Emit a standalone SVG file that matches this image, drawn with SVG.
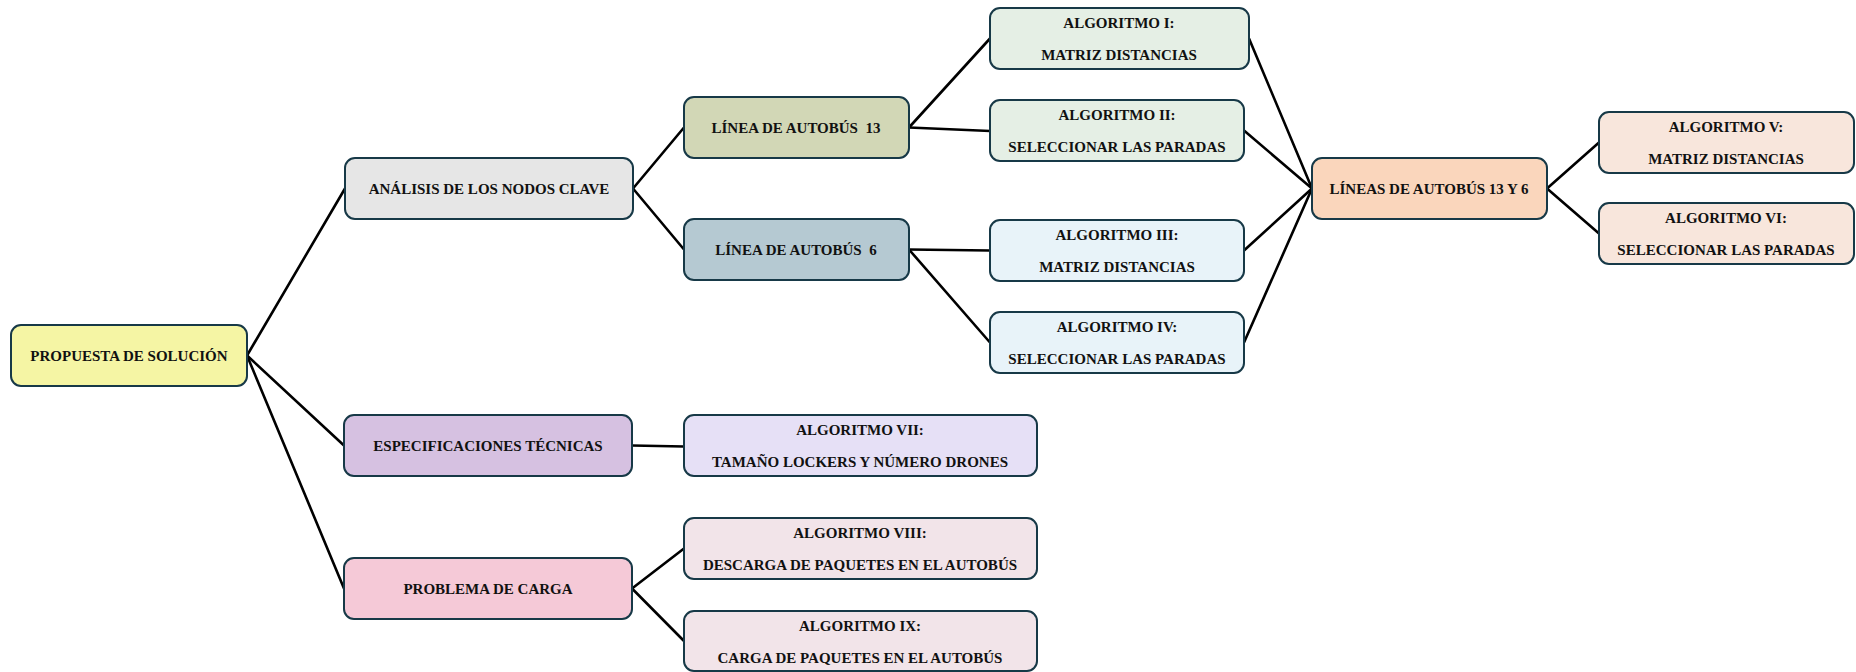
<svg xmlns="http://www.w3.org/2000/svg" width="1856" height="672" viewBox="0 0 1856 672">
  <style>
    .box { stroke: #173947; stroke-width: 2; }
    .lbl { font-family: "Liberation Serif", "Times New Roman", serif; font-weight: bold; font-size: 15px; fill: #111; text-anchor: middle; }
    .edge { stroke: #000; stroke-width: 2.6; fill: none; stroke-linecap: round; }
    .yel { fill: #f5f5a4; }
    .gry { fill: #e6e6e6; }
    .olv { fill: #d2d7b6; }
    .stl { fill: #b5c9d2; }
    .grn { fill: #e5efe5; }
    .blu { fill: #e8f3f9; }
    .pch { fill: #fad6bc; }
    .pch2 { fill: #f8e6dc; }
    .lav { fill: #d6c1e1; }
    .lav2 { fill: #e6e0f6; }
    .pnk { fill: #f5c9d7; }
    .pnk2 { fill: #f2e4e9; }
  </style>

  <g id="connectors">
    <line class="edge" x1="247" y1="355.5" x2="345" y2="188.5"/>
    <line class="edge" x1="247" y1="355.5" x2="344" y2="445.5"/>
    <line class="edge" x1="247" y1="355.5" x2="344" y2="588.5"/>
    <line class="edge" x1="633" y1="188.5" x2="684" y2="127.5"/>
    <line class="edge" x1="633" y1="188.5" x2="684" y2="249.5"/>
    <line class="edge" x1="909" y1="127.5" x2="990" y2="38.5"/>
    <line class="edge" x1="909" y1="127.5" x2="990" y2="131"/>
    <line class="edge" x1="909" y1="249.5" x2="990" y2="250.5"/>
    <line class="edge" x1="909" y1="249.5" x2="990" y2="342.5"/>
    <line class="edge" x1="1249" y1="38.5" x2="1312" y2="188.5"/>
    <line class="edge" x1="1244" y1="130.5" x2="1312" y2="188.5"/>
    <line class="edge" x1="1244" y1="250.5" x2="1312" y2="188.5"/>
    <line class="edge" x1="1244" y1="342.5" x2="1312" y2="188.5"/>
    <line class="edge" x1="1547" y1="188.5" x2="1599" y2="142.5"/>
    <line class="edge" x1="1547" y1="188.5" x2="1599" y2="233.5"/>
    <line class="edge" x1="632" y1="445.5" x2="684" y2="446.5"/>
    <line class="edge" x1="632" y1="588.5" x2="684" y2="548.5"/>
    <line class="edge" x1="632" y1="588.5" x2="684" y2="641"/>
  </g>

  <g id="propuesta">
    <rect class="box yel" x="11" y="325" width="236" height="61" rx="10"/>
    <text class="lbl" x="129" y="361">PROPUESTA DE SOLUCIÓN</text>
  </g>

  <g id="analisis">
    <rect class="box gry" x="345" y="158" width="288" height="61" rx="10"/>
    <text class="lbl" x="489" y="194">ANÁLISIS DE LOS NODOS CLAVE</text>
  </g>

  <g id="linea13">
    <rect class="box olv" x="684" y="97" width="225" height="61" rx="10"/>
    <text class="lbl" x="796" y="133" xml:space="preserve">LÍNEA DE AUTOBÚS  13</text>
  </g>

  <g id="linea6">
    <rect class="box stl" x="684" y="219" width="225" height="61" rx="10"/>
    <text class="lbl" x="796" y="255" xml:space="preserve">LÍNEA DE AUTOBÚS  6</text>
  </g>

  <g id="alg1">
    <rect class="box grn" x="990" y="8" width="259" height="61" rx="10"/>
    <text class="lbl" x="1119" y="28">ALGORITMO I:</text>
    <text class="lbl" x="1119" y="60">MATRIZ DISTANCIAS</text>
  </g>

  <g id="alg2">
    <rect class="box grn" x="990" y="100" width="254" height="61" rx="10"/>
    <text class="lbl" x="1117" y="120">ALGORITMO II:</text>
    <text class="lbl" x="1117" y="152">SELECCIONAR LAS PARADAS</text>
  </g>

  <g id="alg3">
    <rect class="box blu" x="990" y="220" width="254" height="61" rx="10"/>
    <text class="lbl" x="1117" y="240">ALGORITMO III:</text>
    <text class="lbl" x="1117" y="272">MATRIZ DISTANCIAS</text>
  </g>

  <g id="alg4">
    <rect class="box blu" x="990" y="312" width="254" height="61" rx="10"/>
    <text class="lbl" x="1117" y="332">ALGORITMO IV:</text>
    <text class="lbl" x="1117" y="364">SELECCIONAR LAS PARADAS</text>
  </g>

  <g id="lineas13y6">
    <rect class="box pch" x="1312" y="158" width="235" height="61" rx="10"/>
    <text class="lbl" x="1429" y="194">LÍNEAS DE AUTOBÚS 13 Y 6</text>
  </g>

  <g id="alg5">
    <rect class="box pch2" x="1599" y="112" width="255" height="61" rx="10"/>
    <text class="lbl" x="1726" y="132">ALGORITMO V:</text>
    <text class="lbl" x="1726" y="164">MATRIZ DISTANCIAS</text>
  </g>

  <g id="alg6">
    <rect class="box pch2" x="1599" y="203" width="255" height="61" rx="10"/>
    <text class="lbl" x="1726" y="223">ALGORITMO VI:</text>
    <text class="lbl" x="1726" y="255">SELECCIONAR LAS PARADAS</text>
  </g>

  <g id="especificaciones">
    <rect class="box lav" x="344" y="415" width="288" height="61" rx="10"/>
    <text class="lbl" x="488" y="451">ESPECIFICACIONES TÉCNICAS</text>
  </g>

  <g id="alg7">
    <rect class="box lav2" x="684" y="415" width="353" height="61" rx="10"/>
    <text class="lbl" x="860" y="435">ALGORITMO VII:</text>
    <text class="lbl" x="860" y="467">TAMAÑO LOCKERS Y NÚMERO DRONES</text>
  </g>

  <g id="carga">
    <rect class="box pnk" x="344" y="558" width="288" height="61" rx="10"/>
    <text class="lbl" x="488" y="594">PROBLEMA DE CARGA</text>
  </g>

  <g id="alg8">
    <rect class="box pnk2" x="684" y="518" width="353" height="61" rx="10"/>
    <text class="lbl" x="860" y="538">ALGORITMO VIII:</text>
    <text class="lbl" x="860" y="570">DESCARGA DE PAQUETES EN EL AUTOBÚS</text>
  </g>

  <g id="alg9">
    <rect class="box pnk2" x="684" y="611" width="353" height="60" rx="10"/>
    <text class="lbl" x="860" y="631">ALGORITMO IX:</text>
    <text class="lbl" x="860" y="663">CARGA DE PAQUETES EN EL AUTOBÚS</text>
  </g>
</svg>
